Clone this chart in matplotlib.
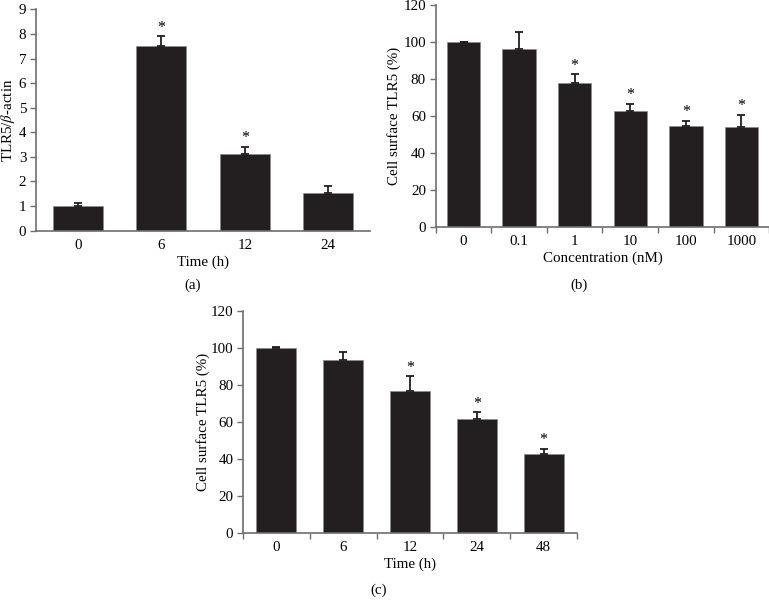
import numpy as np
import matplotlib
matplotlib.use('Agg')
import matplotlib.pyplot as plt

# (a) TLR5 mRNA
tempo_a = ['0', '6', '12', '24']
valores_a = [1.0, 7.5, 3.12, 1.53]
erros_a = [0.13, 0.4, 0.3, 0.27]
sig_a = [False, True, True, False]

# (b) concentracao
conc_b = ['0', '0.1', '1', '10', '100', '1000']
valores_b = [100, 96, 78, 62.7, 54.7, 53.8]
erros_b = [0, 9.5, 4.5, 3.8, 2.8, 6.7]
sig_b = [False, False, True, True, True, True]

# (c) tempo
tempo_c = ['0', '6', '12', '24', '48']
valores_c = [100, 93.5, 76.5, 61.7, 42.5]
erros_c = [0.2, 4.0, 8.0, 3.3, 2.7]
sig_c = [False, False, True, True, True]

plt.rcParams['font.family'] = ['Liberation Serif', 'DejaVu Serif']
plt.rcParams['mathtext.fontset'] = 'stix'
plt.rcParams['font.size'] = 10.8

cor_barra = '#231f20'
cor_eixo = '#6d6e71'

fig = plt.figure(figsize=(7.69, 6.09), dpi=100)


def painel(pos, cats, vals, errs, sig, ylim, yticks, xlabel, ylabel, ticks_x, ylab_x):
    ax = fig.add_axes(pos)
    x = np.arange(len(cats))
    ax.bar(x, vals, width=0.6, color=cor_barra, edgecolor='#8a8a8a', linewidth=0.5, zorder=2)
    ax.errorbar(x, vals, yerr=[np.zeros(len(errs)), errs], fmt='none', ecolor=cor_barra,
                elinewidth=1.3, capsize=3, capthick=1.3, zorder=3)
    for xi, v, e, s in zip(x, vals, errs, sig):
        if s:
            ax.annotate('*', (xi, v + e), xytext=(0, 0.5), textcoords='offset points',
                        ha='center', va='bottom', fontsize=11.5)
    ax.set_xlim(-0.5, len(cats) - 0.5)
    ax.set_ylim(*ylim)
    ax.set_yticks(yticks)
    ax.set_xticks(x)
    ax.set_xticklabels(cats)
    ax.tick_params(axis='x', length=0, pad=6)
    ax.tick_params(axis='y', length=4, width=1, color=cor_eixo, pad=3)
    if ticks_x:
        ax.set_xticks(np.arange(-0.5, len(cats)), minor=True)
        ax.tick_params(axis='x', which='minor', length=4, width=1, color=cor_eixo)
    for lado in ['top', 'right']:
        ax.spines[lado].set_visible(False)
    for lado in ['left', 'bottom']:
        ax.spines[lado].set_color(cor_eixo)
        ax.spines[lado].set_linewidth(1.2)
    ax.set_xlabel(xlabel, labelpad=2.5)
    ax.set_ylabel(ylabel)
    ax.yaxis.set_label_coords(ylab_x, 0.5)
    return ax


painel([0.0468, 0.6212, 0.4343, 0.3635], tempo_a, valores_a, erros_a, sig_a,
       (0, 9), range(0, 10), 'Time (h)', r'TLR5/$\beta$-actin', False, -0.056)
painel([0.5666, 0.6273, 0.4337, 0.3645], conc_b, valores_b, erros_b, sig_b,
       (0, 120), range(0, 121, 20), 'Concentration (nM)', 'Cell surface TLR5 (%)', True, -0.105)
painel([0.316, 0.1253, 0.4343, 0.3645], tempo_c, valores_c, erros_c, sig_c,
       (0, 120), range(0, 121, 20), 'Time (h)', 'Cell surface TLR5 (%)', True, -0.1)

fig.text(193 / 769, 1 - 285 / 609, '(a)', ha='center', va='center')
fig.text(579 / 769, 1 - 285 / 609, '(b)', ha='center', va='center')
fig.text(379 / 769, 1 - 590 / 609, '(c)', ha='center', va='center')

fig.savefig('out.png', dpi=100)
